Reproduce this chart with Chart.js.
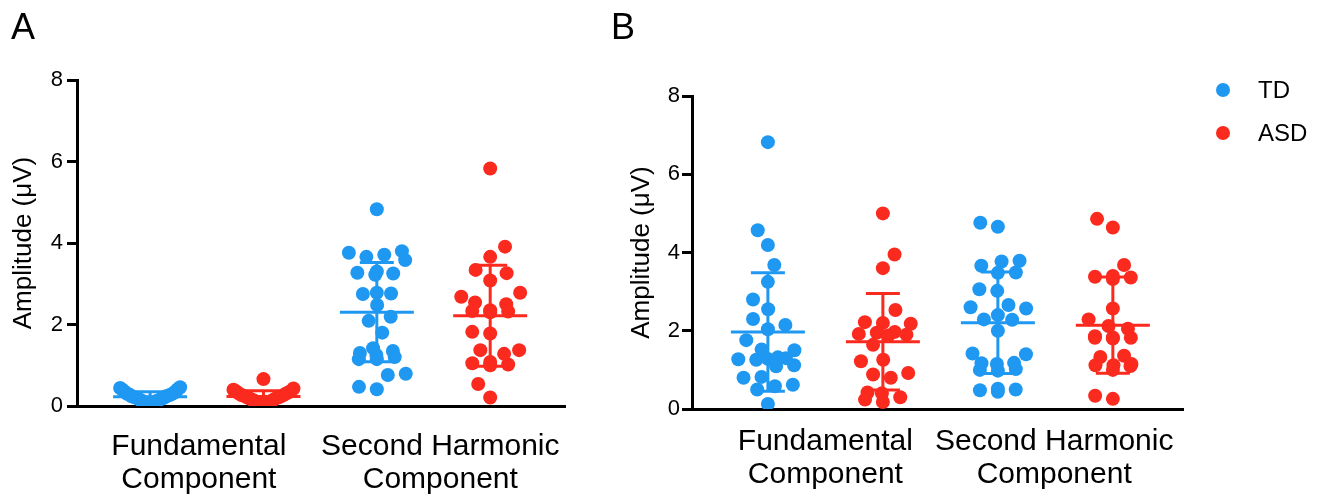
<!DOCTYPE html>
<html>
<head>
<meta charset="utf-8">
<script src="https://cdn.jsdelivr.net/npm/chart.js@4.4.1/dist/chart.umd.min.js"></script>
<style>
  html, body { margin: 0; padding: 0; background: #fff; }
  #wrap { position: relative; width: 1326px; height: 500px; overflow: hidden; background: #fff; }
  #wrap canvas { position: absolute; top: 0; }
  #cA { left: 0; }
  #cB { left: 600px; }
  .panel-tag { position: absolute; top: 9px; font: 36px/1 "Liberation Sans", Arial, sans-serif; color: #000; }
</style>
</head>
<body>
<div id="wrap">
  <canvas id="cA" width="600" height="500"></canvas>
  <canvas id="cB" width="726" height="500"></canvas>
  <div class="panel-tag" style="left:11px">A</div>
  <div class="panel-tag" style="left:611px">B</div>
</div>
<script>
// Category and group names
const componentLabels = [['Fundamental', 'Component'], ['Second Harmonic', 'Component']];
const groupNames = ['TD', 'ASD'];
const yTickValues = [0, 2, 4, 6, 8];
const yAxisTitle = 'Amplitude (\u03BCV)';

// Panel A amplitudes (µV), one value per participant
const tdFundamentalA = [0.46, 0.44, 0.41, 0.40, 0.36, 0.35, 0.31, 0.30, 0.28, 0.28, 0.26, 0.24, 0.24, 0.22,
                        0.20, 0.20, 0.18, 0.17, 0.15, 0.14, 0.13, 0.11, 0.10, 0.08, 0.07, 0.05, 0.02];
const asdFundamentalA = [0.66, 0.43, 0.40, 0.37, 0.36, 0.33, 0.31, 0.30, 0.27, 0.26, 0.25, 0.23, 0.22,
                         0.21, 0.19, 0.18, 0.16, 0.14, 0.13, 0.11, 0.10, 0.08, 0.06, 0.05, 0.03];
const tdSecondA = [4.83, 3.80, 3.76, 3.71, 3.66, 3.58, 3.30, 3.27, 3.25, 3.22, 2.78, 2.76, 2.75, 2.48,
                   2.19, 2.09, 1.80, 1.42, 1.35, 1.30, 1.25, 1.20, 1.15, 1.15, 0.79, 0.76, 0.47, 0.41];
const asdSecondA = [5.83, 3.91, 3.66, 3.34, 3.26, 3.08, 2.78, 2.68, 2.54, 2.50, 2.35, 2.33, 2.32,
                    2.30, 1.82, 1.78, 1.37, 1.37, 1.28, 1.08, 1.05, 1.02, 1.00, 0.54, 0.21];

// Panel B amplitudes (µV)
const tdFundamentalB = [6.82, 4.57, 4.19, 3.68, 3.25, 2.80, 2.55, 2.30, 2.15, 2.04, 1.76, 1.52, 1.50,
                        1.32, 1.30, 1.28, 1.27, 1.26, 1.12, 1.09, 0.82, 0.80, 0.62, 0.58, 0.50, 0.13];
const asdFundamentalB = [5.00, 3.95, 3.60, 2.53, 2.22, 2.20, 2.18, 1.97, 1.95, 1.92, 1.90, 1.88,
                         1.64, 1.26, 1.22, 0.92, 0.88, 0.80, 0.42, 0.40, 0.30, 0.24, 0.18];
const tdSecondB = [4.76, 4.66, 3.79, 3.77, 3.66, 3.49, 3.48, 3.06, 3.02, 2.66, 2.60, 2.57, 2.40, 2.29,
                   2.28, 2.00, 1.42, 1.40, 1.18, 1.17, 1.15, 1.02, 1.00, 0.98, 0.52, 0.50, 0.48, 0.44];
const asdSecondB = [4.86, 4.64, 3.68, 3.40, 3.38, 3.36, 3.32, 2.57, 2.29, 2.12, 2.05, 1.86, 1.83,
                    1.82, 1.82, 1.80, 1.36, 1.33, 1.15, 1.12, 1.12, 1.10, 1.00, 0.34, 0.26];

const groupColors = ['#1F98F2', '#FB2A1F'];
const FONT = '"Liberation Sans", Arial, Helvetica, sans-serif';

// Row layout for tightly packed columns: lowest values in the middle, higher ones outward
function rowOffsets(order, D, cap, rowHeight) {
  const out = new Map();
  let i = 0;
  while (i < order.length) {
    const row = [order[i]];
    let j = i + 1;
    while (j < order.length && order[i].y - order[j].y < rowHeight) { row.push(order[j]); j++; }
    const n = row.length;
    const s = n > 1 ? Math.min(D, (2 * cap) / (n - 1)) : 0;
    const slots = [];
    for (let k = 0; k < n; k++) slots.push((k - (n - 1) / 2) * s);
    slots.sort((a, b) => Math.abs(a) - Math.abs(b) || a - b);
    row.forEach((el, k) => out.set(el, slots[k]));
    i = j;
  }
  return out;
}

// Greedy beeswarm: each point goes as close to the column centre as it can without touching
function greedyOffsets(order, D, cap) {
  const out = new Map();
  const placed = [];
  order.forEach(el => {
    const cands = [0];
    placed.forEach(q => {
      const dy = Math.abs(el.y - q.y);
      if (dy < D) {
        const dx = Math.sqrt(D * D - dy * dy);
        cands.push(q.dx + dx, q.dx - dx);
      }
    });
    let left = 0, right = 0;
    placed.forEach(q => { if (q.dx < -0.5) left++; else if (q.dx > 0.5) right++; });
    let best = null;
    cands.forEach(c => {
      if (Math.abs(c) > cap + 1e-6) return;
      let ov = 0;
      placed.forEach(q => { ov = Math.max(ov, D - Math.hypot(c - q.dx, el.y - q.y)); });
      ov = Math.round(Math.max(0, ov - 1e-6) * 100) / 100;
      const mag = Math.round(Math.abs(c) * 100) / 100;
      const side = c < -0.5 ? (left <= right ? 0 : 1) : (c > 0.5 ? (right < left ? 0 : 1) : 0);
      const key = [ov, mag, side];
      if (!best || key[0] < best.key[0] ||
          (key[0] === best.key[0] && (key[1] < best.key[1] ||
          (key[1] === best.key[1] && key[2] < best.key[2])))) {
        best = { c, key };
      }
    });
    placed.push({ dx: best.c, y: el.y });
    out.set(el, best.c);
  });
  return out;
}

const swarmPlugin = {
  id: 'swarm',
  beforeDatasetsDraw(chart, args, opts) {
    const xs = chart.scales.x;
    chart.data.datasets.forEach((ds, di) => {
      const meta = chart.getDatasetMeta(di);
      const columns = new Map();
      meta.data.forEach((el, i) => {
        const slot = ds.data[i].x;
        if (!columns.has(slot)) columns.set(slot, []);
        columns.get(slot).push(el);
      });
      columns.forEach((els, slot) => {
        const cx = xs.getPixelForValue(slot);
        const order = els.slice().sort((a, b) => b.y - a.y);
        const span = order[0].y - order[order.length - 1].y;
        const offs = span < opts.packedSpan
          ? rowOffsets(order, opts.spacing, opts.maxOffset, opts.rowHeight)
          : greedyOffsets(order, opts.spacing, opts.maxOffset);
        els.forEach(el => { el.x = cx + offs.get(el); });
      });
    });
  }
};

// Mean line with ± SD whiskers for every column
const errorBarPlugin = {
  id: 'errorBars',
  afterDatasetsDraw(chart, args, opts) {
    const { ctx, scales: { x, y } } = chart;
    chart.data.datasets.forEach(ds => {
      const columns = new Map();
      ds.data.forEach(p => {
        if (!columns.has(p.x)) columns.set(p.x, []);
        columns.get(p.x).push(p.y);
      });
      columns.forEach((vals, slot) => {
        const n = vals.length;
        const mean = vals.reduce((a, b) => a + b, 0) / n;
        const sd = Math.sqrt(vals.reduce((a, v) => a + (v - mean) * (v - mean), 0) / (n - 1));
        const cx = x.getPixelForValue(slot);
        const ym = y.getPixelForValue(mean);
        const yt = y.getPixelForValue(mean + sd);
        const yb = y.getPixelForValue(Math.max(0, mean - sd));
        ctx.save();
        ctx.strokeStyle = ds.backgroundColor;
        ctx.lineWidth = opts.lineWidth;
        ctx.beginPath();
        ctx.moveTo(cx, yt); ctx.lineTo(cx, yb);
        ctx.moveTo(cx - opts.capHalf, yt); ctx.lineTo(cx + opts.capHalf, yt);
        ctx.moveTo(cx - opts.capHalf, yb); ctx.lineTo(cx + opts.capHalf, yb);
        ctx.moveTo(cx - opts.meanHalf, ym); ctx.lineTo(cx + opts.meanHalf, ym);
        ctx.stroke();
        ctx.restore();
      });
    });
  }
};

// Group key drawn to the right of the plot
const keyPlugin = {
  id: 'groupKey',
  afterDraw(chart, args, opts) {
    if (!opts.show) return;
    const ctx = chart.ctx;
    ctx.save();
    ctx.font = opts.fontSize + 'px ' + FONT;
    ctx.textBaseline = 'middle';
    ctx.textAlign = 'left';
    chart.data.datasets.forEach((ds, i) => {
      const cy = opts.top + i * opts.rowGap;
      ctx.fillStyle = ds.backgroundColor;
      ctx.beginPath();
      ctx.arc(opts.dotX, cy, opts.radius, 0, Math.PI * 2);
      ctx.fill();
      ctx.fillStyle = '#000';
      ctx.fillText(ds.label, opts.textX, cy + 1);
    });
    ctx.restore();
  }
};

function buildDatasets(seriesByGroup) {
  return seriesByGroup.map((components, g) => ({
    label: groupNames[g],
    backgroundColor: groupColors[g],
    borderWidth: 0,
    pointRadius: 7,
    pointHoverRadius: 7,
    data: components.flatMap((vals, c) => vals.map(v => ({ x: c * 2 + g, y: v })))
  }));
}

function makePanel(canvasId, seriesByGroup, g) {
  return new Chart(document.getElementById(canvasId), {
    type: 'scatter',
    data: { datasets: buildDatasets(seriesByGroup) },
    plugins: [swarmPlugin, errorBarPlugin, keyPlugin],
    options: {
      responsive: false,
      animation: false,
      devicePixelRatio: 1,
      layout: { padding: { left: 0, top: g.top, right: g.right, bottom: 0 } },
      plugins: {
        legend: { display: false },
        tooltip: { enabled: false },
        swarm: { spacing: 18, maxOffset: 30, packedSpan: 40, rowHeight: 22 },
        errorBars: { lineWidth: 3, capHalf: 17, meanHalf: 37 },
        groupKey: g.key
      },
      scales: {
        x: {
          type: 'linear',
          min: g.xMin,
          max: g.xMax,
          afterBuildTicks: s => { s.ticks = g.labelAt.map(v => ({ value: v })); },
          afterFit: s => { s.height = g.xAxisHeight; },
          grid: { display: false },
          border: { display: true, color: '#000', width: 3 },
          ticks: {
            autoSkip: false,
            maxRotation: 0,
            color: '#000',
            padding: g.labelPad,
            font: { family: FONT, size: 30, lineHeight: 1.1 },
            callback: (v, i) => componentLabels[i]
          }
        },
        y: {
          type: 'linear',
          min: 0,
          max: 8,
          afterBuildTicks: s => { s.ticks = yTickValues.map(v => ({ value: v })); },
          afterFit: s => { s.width = g.yAxisWidth; },
          grid: { drawOnChartArea: false, drawTicks: true, tickLength: 10, tickWidth: 3, color: '#000', lineWidth: 3 },
          border: { display: true, color: '#000', width: 3 },
          ticks: { color: '#000', padding: g.tickPad, font: { family: FONT, size: 22 } },
          title: {
            display: true,
            text: yAxisTitle,
            color: '#000',
            font: { family: FONT, size: 26 },
            padding: { top: g.titlePad, bottom: 0 }
          }
        }
      }
    }
  });
}

makePanel('cA', [[tdFundamentalA, tdSecondA], [asdFundamentalA, asdSecondA]], {
  top: 80, right: 35, yAxisWidth: 77, xAxisHeight: 94,
  xMin: -0.645, xMax: 3.66, labelAt: [0.43, 2.56], tickPad: 4, titlePad: 8, labelPad: 16,
  key: { show: false }
});

makePanel('cB', [[tdFundamentalB, tdSecondB], [asdFundamentalB, asdSecondB]], {
  top: 96, right: 143, yAxisWidth: 92, xAxisHeight: 91,
  xMin: -0.66, xMax: 3.61, labelAt: [0.5, 2.49], tickPad: 2, titlePad: 26, labelPad: 8,
  key: { show: true, dotX: 623, textX: 658, top: 90, rowGap: 43, radius: 7, fontSize: 24 }
});
</script>
</body>
</html>
